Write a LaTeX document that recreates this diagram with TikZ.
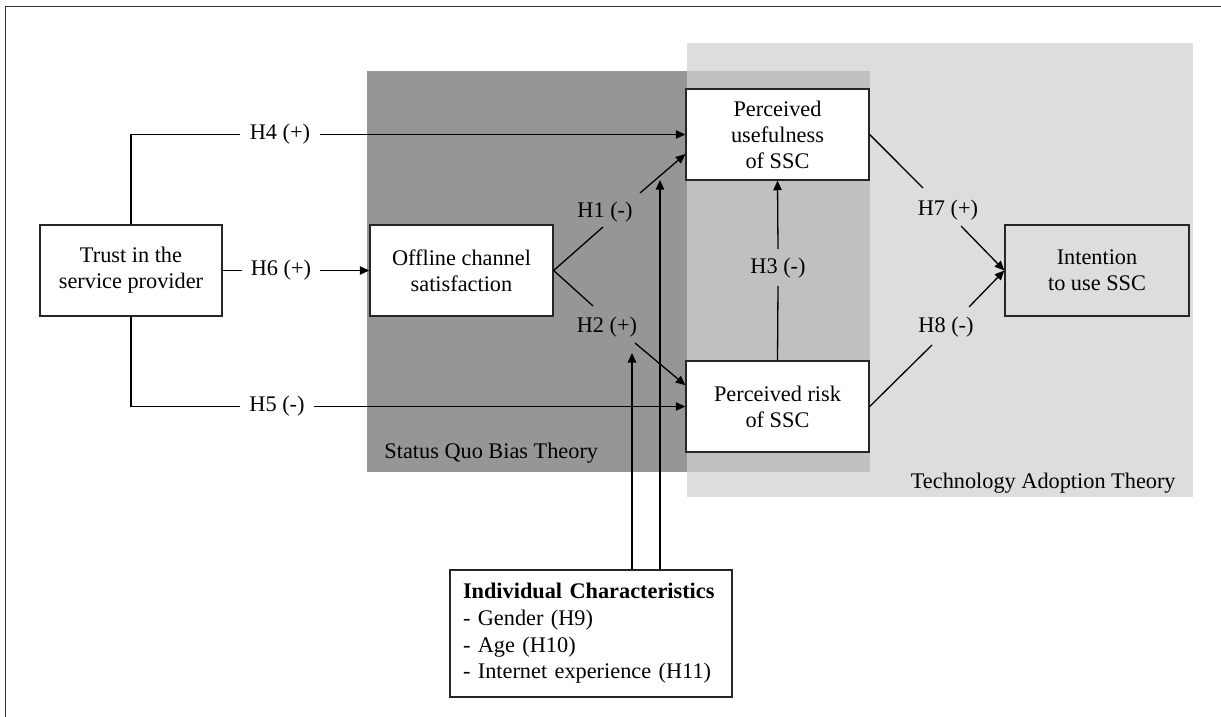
\documentclass[tikz,border=0pt]{standalone}
\usepackage{fontspec}
\setmainfont{Liberation Serif}
\usetikzlibrary{arrows.meta}
\definecolor{gdark}{RGB}{150,150,150}
\definecolor{gmid}{RGB}{192,192,192}
\definecolor{glight}{RGB}{221,221,221}
\newcommand{\diafont}{\fontsize{11.15pt}{13pt}\selectfont}
\begin{document}
\begin{tikzpicture}[x=0.5pt,y=-0.5pt,
  box/.style={draw=black!85, line width=0.65pt, fill=white, minimum width=91.5pt,
    minimum height=45.5pt, align=center, inner sep=0pt, font=\diafont},
  lbl/.style={inner xsep=4.4pt, inner ysep=0pt, font=\diafont},
  ln/.style={line width=0.65pt},
  arr/.style={line width=0.65pt, -{Triangle[length=4.8pt,width=4.2pt]}},
  theory/.style={inner sep=0pt, font=\diafont}]
\useasboundingbox (0,0) rectangle (1221,717);
% background regions
\fill[gdark] (367,71) rectangle (870,472);
\fill[glight] (687,43) rectangle (1193,497);
\fill[gmid] (687,71) rectangle (870,472);
% frame
\draw[line width=0.5pt, black!80] (1221,7) -- (5.5,7) -- (5.5,717);
% theory labels
\node[theory, anchor=west] (sq) at (384,453) {Status Quo Bias Theory};
\node[theory, anchor=east] (ta) at (1176,483) {Technology Adoption Theory};
% nodes
\node[box, minimum width=91pt] (trust) at (131,270.5) {Trust in the\\service provider};
\node[box] (off) at (461.5,270.5) {Offline channel\\satisfaction};
\node[box] (pu) at (777.5,134.5) {Perceived\\usefulness\\of SSC};
\node[box] (pr) at (777.5,406.5) {Perceived risk\\of SSC};
\node[box, fill=glight, minimum width=92pt] (int) at (1097,270.5) {Intention\\to use SSC};
\node[draw=black!85, line width=0.65pt, fill=white, minimum width=141pt, minimum height=63.5pt,
  text width=128pt, inner xsep=6.5pt, inner ysep=0pt, align=left,
  font=\fontsize{11.15pt}{13.3pt}\selectfont] (ind) at (591,633.5)
  {\textbf{Individual Characteristics}\\- Gender (H9)\\- Age (H10)\\- Internet experience (H11)};
% hypothesis labels
\node[lbl, inner xsep=4.5pt] (l4) at (280,134.5) {H4 (+)};
\node[lbl, inner xsep=4.2pt] (l6) at (281,270.5) {H6 (+)};
\node[lbl, inner xsep=4.3pt] (l5) at (277,406.5) {H5 (-)};
\node[lbl] (l1) at (605,212) {H1 (-)};
\node[lbl] (l2) at (607,327) {H2 (+)};
\node[lbl] (l3) at (778,268) {H3 (-)};
\node[lbl] (l7) at (948,210) {H7 (+)};
\node[lbl] (l8) at (946,327) {H8 (-)};
% gap coordinates
\coordinate (h1a) at (603,227); \coordinate (h1b) at (640,193);
\coordinate (h2a) at (593,306); \coordinate (h2b) at (635,343);
\coordinate (h3a) at (778,286); \coordinate (h3b) at (778,249);
\coordinate (h7a) at (923,188); \coordinate (h7b) at (961,226);
\coordinate (h8a) at (932,345); \coordinate (h8b) at (969,307);
\coordinate (m1) at (632,353); \coordinate (m2) at (660,180);
% connectors
\draw[ln] (trust.north) |- (l4.west);
\draw[arr] (l4.east) -- (pu.west);
\draw[ln] (trust.east) -- (l6.west);
\draw[arr] (l6.east) -- (off.west);
\draw[ln] (trust.south) |- (l5.west);
\draw[arr] (l5.east) -- (pr.west);
\draw[ln] (off.east) -- (h1a);
\draw[arr] (h1b) -- (pu.192);
\draw[ln] (off.east) -- (h2a);
\draw[arr] (h2b) -- (pr.167);
\draw[ln] (pr.north) -- (h3a);
\draw[arr] (h3b) -- (pu.south);
\draw[ln] (pu.east) -- (h7a);
\draw[arr] (h7b) -- (int.west);
\draw[ln] (pr.east) -- (h8a);
\draw[arr] (h8b) -- (int.west);
\draw[arr] (ind.north -| m1) -- (m1);
\draw[arr] (ind.north -| m2) -- (m2);
\end{tikzpicture}
\end{document}
